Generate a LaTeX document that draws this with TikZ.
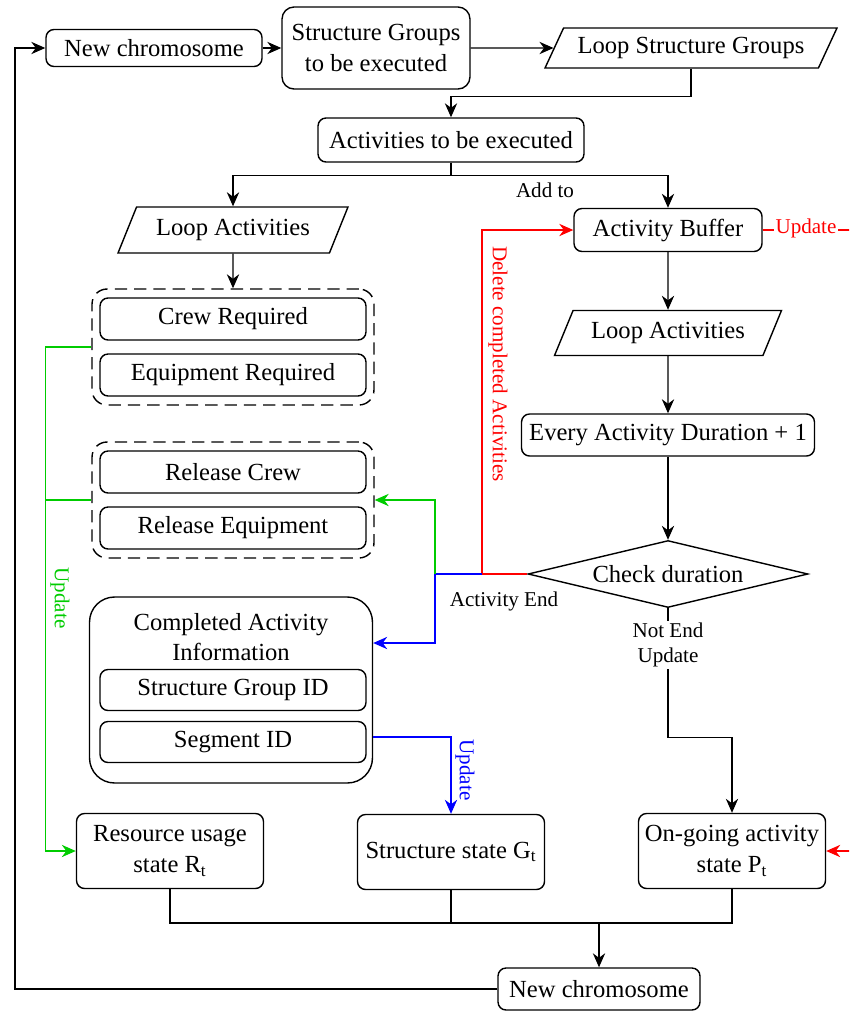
\documentclass[tikz,border=0pt]{standalone}
\usepackage{fontspec}
\setmainfont{Liberation Serif}
\usetikzlibrary{shapes.geometric,arrows.meta}

\definecolor{updgreen}{RGB}{0,204,0}

\begin{document}
\begin{tikzpicture}[x=0.02cm, y=-0.02cm,
	font=\fontsize{14}{17.5}\selectfont, line width=0.8pt,
	box/.style={draw, rounded corners=0.16cm, align=center, inner sep=2pt},
	lbox/.style={draw, trapezium, trapezium left angle=57, trapezium right angle=123,
		trapezium stretches body, inner sep=2pt},
	grp/.style={draw, dash pattern=on 7pt off 4pt, rounded corners=0.3cm,
		minimum width=5.64cm, minimum height=2.32cm},
	item/.style={box, minimum width=5.32cm, minimum height=0.84cm},
	state/.style={box, minimum width=3.74cm, minimum height=1.5cm},
	check/.style={draw, diamond, aspect=4.18, minimum width=5.6cm, minimum height=1.34cm, inner sep=0pt},
	lbl/.style={font=\fontsize{12}{14.5}\selectfont, align=center, inner sep=1pt},
	arr/.style={-{Stealth[length=8pt, width=7pt]}},
]
	\useasboundingbox (0,0) rectangle (849,1011);
	\clip (0,0) rectangle (849,1011);

	% top row
	\node[box, minimum width=4.32cm, minimum height=0.74cm] (newA) at (154,48) {New chromosome};
	\node[box, minimum width=3.76cm, minimum height=1.64cm, rounded corners=0.24cm] (sgroups) at (376,48) {Structure Groups\\to be executed};
	\node[lbox, minimum width=5.84cm, minimum height=0.8cm] (loopSG) at (691,48) {Loop Structure Groups};
	\node[box, minimum width=5.32cm, minimum height=0.88cm] (acts) at (451,140) {Activities to be executed};

	% left column
	\node[lbox, minimum width=4.6cm, minimum height=0.92cm] (loopL) at (233,230) {Loop Activities};
	\node[grp] (grpA) at (233,347) {};
	\node[item] (crew) at (233,319) {Crew Required};
	\node[item] (equip) at (233,375) {Equipment Required};
	\node[grp] (grpB) at (233,500) {};
	\node[item] (relcrew) at (233,472) {Release Crew};
	\node[item] (releq) at (233,528) {Release Equipment};
	\node[draw, rounded corners=0.5cm, minimum width=5.66cm, minimum height=3.72cm] (done) at (231,690) {};
	\node[align=center] (doneTitle) at (231,637) {Completed Activity\\Information};
	\node[item, minimum height=0.82cm] (sgid) at (233,690) {Structure Group ID};
	\node[item, minimum height=0.82cm] (segid) at (233,742) {Segment ID};

	% right column
	\node[box, minimum width=3.76cm, minimum height=0.86cm] (buffer) at (668,230) {Activity Buffer};
	\node[lbox, minimum width=4.54cm, minimum height=0.9cm] (loopR) at (668,333) {Loop Activities};
	\node[box, minimum width=5.86cm, minimum height=0.84cm] (every) at (668,435) {Every Activity Duration + 1};
	\node[check] (chk) at (668,574) {Check duration};

	% states
	\node[state] (resst) at (170,851) {Resource usage\\state R\textsubscript{t}};
	\node[state] (strst) at (451,852) {Structure state G\textsubscript{t}};
	\node[state] (ongst) at (732,851) {On-going activity\\state P\textsubscript{t}};
	\node[box, minimum width=4.04cm, minimum height=0.84cm] (newB) at (599,989) {New chromosome};

	\coordinate (redturn) at (482,574);
	\coordinate (fork) at (435,574);
	\coordinate (merge) at (599,923);

	% labels
	\node[lbl] (addto) at (545,190) {Add to};
	\node[lbl] (actend) at (504,601) {Activity End};
	\node[lbl, red, rotate=-90] (dellbl) at (498,364) {Delete completed Activities};
	\node[lbl, updgreen, rotate=-90] (greenlbl) at (60,598) {Update};
	\node[lbl, blue, rotate=-90] (bluelbl) at (465,770) {Update};

	% black flow
	\draw[arr] (newA) -- (sgroups);
	\draw[arr] (sgroups.east) -- (loopSG.west);
	\draw[arr] (loopSG.south) -- ++(0,28) -| (acts.north);
	\draw[arr] (acts.south) -- ++(0,13) -| (loopL.north);
	\draw[arr] (acts.south) -- ++(0,13) -| (buffer.north);
	\draw[arr] (loopL) -- (grpA);
	\draw[arr] (buffer) -- (loopR);
	\draw[arr] (loopR) -- (every);
	\draw[arr] (every) -- (chk);
	\draw[arr] (chk.south) -- ++(0,129) -| (ongst.north);
	\node[lbl, fill=white] (notend) at (668,645) {Not End\\Update};
	\draw (resst.south) |- (merge) -| (ongst.south);
	\draw (strst.south) -- (strst.south |- merge);
	\draw[arr] (merge) -- (newB.north);
	\draw[arr] (newB.west) -| (15,48) -- (newA.west);

	% coloured updates
	\draw[red, arr] (chk.west) -- (redturn) |- (buffer.west);
	\draw[red, arr] (buffer.east) -- ++(110,0) |- (ongst.east);
	\node[lbl, red, fill=white] (updr) at (806,228) {Update};
	\draw[blue, arr] (redturn) -- (fork) |- ([yshift=0.94cm]done.east);
	\draw[updgreen, arr] (fork) |- (grpB.east);
	\draw[blue, arr] ([yshift=-0.94cm]done.east) -| (strst.north);
	\draw[updgreen, arr] (grpA.west) -- ++(-46,0) |- (resst.west);
	\draw[updgreen] (grpB.west) -- ++(-46,0);
\end{tikzpicture}
\end{document}
